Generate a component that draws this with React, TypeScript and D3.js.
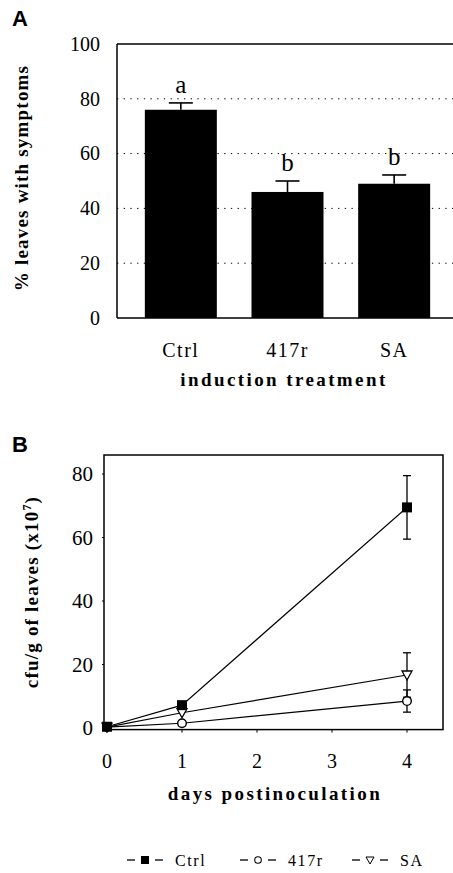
import React from "react";
import * as d3 from "d3";

// Panel A: % leaves with symptoms
const treatments = ["Ctrl", "417r", "SA"];
const symptomMeans = [76, 46, 49];
const symptomErrors = [2.5, 4, 3.2];
const significance = ["a", "b", "b"];
const symptomTicks = [0, 20, 40, 60, 80, 100];

// Panel B: cfu/g of leaves (x10^7)
const days = [0, 1, 4];
const dayTicks = [0, 1, 2, 3, 4];
const cfuTicks = [0, 20, 40, 60, 80];
const ctrlCfu = [0.4, 7.2, 69.5];
const ctrlErr = [0, 0, 10];
const r417Cfu = [0.3, 1.5, 8.5];
const r417Err = [0, 0, 3.5];
const saCfu = [0.3, 4.8, 16.7];
const saErr = [0, 0, 7];

const W = 453;
const H = 873;
const serif = "'Liberation Serif', 'Times New Roman', serif";
const sans = "'Liberation Sans', Arial, sans-serif";

type Series = { name: string; values: number[]; errors: number[]; marker: "square" | "circle" | "triangle" };
const series: Series[] = [
  { name: "Ctrl", values: ctrlCfu, errors: ctrlErr, marker: "square" },
  { name: "417r", values: r417Cfu, errors: r417Err, marker: "circle" },
  { name: "SA", values: saCfu, errors: saErr, marker: "triangle" },
];

const Marker = ({ type, x, y }: { type: string; x: number; y: number }) => {
  if (type === "square")
    return <rect x={x - 5} y={y - 5} width={10} height={10} fill="#000" />;
  if (type === "circle")
    return <circle cx={x} cy={y} r={4.3} fill="#fff" stroke="#000" strokeWidth={1.4} />;
  return (
    <path
      d={`M${x - 5},${y - 4}L${x + 5},${y - 4}L${x},${y + 5}Z`}
      fill="#fff"
      stroke="#000"
      strokeWidth={1.3}
    />
  );
};

export default function App() {
  // ---- panel A scales
  const yA = d3.scaleLinear().domain([0, 100]).range([318, 44]);
  const xA = d3
    .scaleBand<string>()
    .domain(treatments)
    .range([127.5, 447.5])
    .paddingInner(0.325)
    .paddingOuter(0.1625);
  const axisLeftA = 117;

  // ---- panel B scales
  const xB = d3.scaleLinear().domain([-0.04, 4.48]).range([104, 443]);
  const yB = d3.scaleLinear().domain([-0.5, 86]).range([729.6, 455]);
  const line = d3
    .line<number>()
    .x((_, i) => xB(days[i]))
    .y((d) => yB(d));

  // Ctrl markers sit on top of the others
  const markerOrder = [...series].reverse();

  return (
    <svg
      width={W}
      height={H}
      style={{ position: "absolute", left: 0, top: 0, background: "#fff" }}
    >
      {/* ================= Panel A ================= */}
      <text x={12} y={26} fontFamily={sans} fontWeight="bold" fontSize={22}>
        A
      </text>

      {/* dotted grid */}
      {symptomTicks
        .filter((t) => t > 0 && t < 100)
        .map((t) => (
          <line
            key={t}
            x1={axisLeftA}
            x2={W}
            y1={yA(t)}
            y2={yA(t)}
            stroke="#000"
            strokeWidth={1}
            strokeDasharray="1.3,5.4"
          />
        ))}

      {/* bars */}
      {treatments.map((c, i) => {
        const x = xA(c)!;
        const bw = xA.bandwidth();
        const cx = x + bw / 2;
        const top = yA(symptomMeans[i] + symptomErrors[i]);
        return (
          <g key={c}>
            <line x1={cx} x2={cx} y1={yA(symptomMeans[i])} y2={top} stroke="#000" strokeWidth={1.6} />
            <line x1={cx - 12} x2={cx + 12} y1={top} y2={top} stroke="#000" strokeWidth={1.6} />
            <rect x={x} y={yA(symptomMeans[i])} width={bw} height={yA(0) - yA(symptomMeans[i])} fill="#000" />
            <text
              x={cx}
              y={top - 10}
              textAnchor="middle"
              fontFamily={serif}
              fontSize={25}
            >
              {significance[i]}
            </text>
            <text
              x={cx}
              y={357}
              textAnchor="middle"
              fontFamily={serif}
              fontSize={20}
              letterSpacing={1.5}
            >
              {c}
            </text>
          </g>
        );
      })}

      {/* frame */}
      <line x1={axisLeftA} x2={W} y1={yA(100)} y2={yA(100)} stroke="#000" strokeWidth={1.5} />
      <line x1={axisLeftA} x2={W} y1={yA(0)} y2={yA(0)} stroke="#000" strokeWidth={1.5} />
      <line x1={axisLeftA} x2={axisLeftA} y1={yA(100)} y2={yA(0)} stroke="#000" strokeWidth={1.5} />

      {/* y ticks A */}
      {symptomTicks.map((t) => (
        <text
          key={t}
          x={100}
          y={yA(t)}
          dy="0.34em"
          textAnchor="end"
          fontFamily={serif}
          fontSize={20}
        >
          {t}
        </text>
      ))}

      <text
        transform={`translate(28,${178}) rotate(-90)`}
        textAnchor="middle"
        fontFamily={serif}
        fontWeight="bold"
        fontSize={19}
        letterSpacing={1.2}
      >
        % leaves with symptoms
      </text>
      <text
        x={284}
        y={386}
        textAnchor="middle"
        fontFamily={serif}
        fontWeight="bold"
        fontSize={19}
        letterSpacing={2.4}
      >
        induction treatment
      </text>

      {/* ================= Panel B ================= */}
      <text x={12} y={452} fontFamily={sans} fontWeight="bold" fontSize={22}>
        B
      </text>

      {/* frame */}
      <rect
        x={xB.range()[0]}
        y={yB.range()[1]}
        width={xB.range()[1] - xB.range()[0]}
        height={yB.range()[0] - yB.range()[1]}
        fill="none"
        stroke="#000"
        strokeWidth={1.5}
      />

      {/* x ticks */}
      {dayTicks.map((t) => (
        <g key={t}>
          {t > 0 && (
            <line x1={xB(t)} x2={xB(t)} y1={yB.range()[0]} y2={yB.range()[0] + 3} stroke="#000" strokeWidth={1} />
          )}
          <text x={xB(t)} y={768} textAnchor="middle" fontFamily={serif} fontSize={20}>
            {t}
          </text>
        </g>
      ))}

      {/* y ticks */}
      {cfuTicks.map((t) => (
        <g key={t}>
          <line x1={xB.range()[0] - 2} x2={xB.range()[0]} y1={yB(t)} y2={yB(t)} stroke="#000" strokeWidth={1} />
          <text x={93} y={yB(t)} dy="0.34em" textAnchor="end" fontFamily={serif} fontSize={21}>
            {t}
          </text>
        </g>
      ))}

      {/* lines */}
      {series.map((s) => (
        <path key={s.name} d={line(s.values) || ""} fill="none" stroke="#000" strokeWidth={1.2} />
      ))}

      {/* error bars */}
      {series.map((s) =>
        s.values.map((v, i) =>
          s.errors[i] > 0 ? (
            <g key={`${s.name}-e${i}`} stroke="#000" strokeWidth={1.3}>
              <line x1={xB(days[i])} x2={xB(days[i])} y1={yB(v - s.errors[i])} y2={yB(v + s.errors[i])} />
              <line x1={xB(days[i]) - 4} x2={xB(days[i]) + 4} y1={yB(v + s.errors[i])} y2={yB(v + s.errors[i])} />
              <line x1={xB(days[i]) - 4} x2={xB(days[i]) + 4} y1={yB(v - s.errors[i])} y2={yB(v - s.errors[i])} />
            </g>
          ) : null
        )
      )}

      {/* markers */}
      {markerOrder.map((s) =>
        s.values.map((v, i) => (
          <Marker key={`${s.name}-m${i}`} type={s.marker} x={xB(days[i])} y={yB(v)} />
        ))
      )}

      <text
        transform={`translate(38,${592}) rotate(-90)`}
        textAnchor="middle"
        fontFamily={serif}
        fontWeight="bold"
        fontSize={19}
        letterSpacing={1.2}
      >
        cfu/g of leaves (x10
        <tspan dy={-7} fontSize={12}>
          7
        </tspan>
        <tspan dy={7}>)</tspan>
      </text>
      <text
        x={275}
        y={800}
        textAnchor="middle"
        fontFamily={serif}
        fontWeight="bold"
        fontSize={19}
        letterSpacing={2.4}
      >
        days postinoculation
      </text>

      {/* legend */}
      {series.map((s, i) => {
        const lx = [127, 240, 352][i];
        const cy = 860;
        return (
          <g key={`leg-${s.name}`}>
            <line x1={lx} x2={lx + 8} y1={cy} y2={cy} stroke="#000" strokeWidth={1.3} />
            <line x1={lx + 28} x2={lx + 36} y1={cy} y2={cy} stroke="#000" strokeWidth={1.3} />
            {s.marker === "square" && <rect x={lx + 14} y={cy - 4} width={8} height={8} fill="#000" />}
            {s.marker === "circle" && (
              <circle cx={lx + 18} cy={cy} r={3.3} fill="#fff" stroke="#000" strokeWidth={1.1} />
            )}
            {s.marker === "triangle" && (
              <path
                d={`M${lx + 14},${cy - 3}L${lx + 22},${cy - 3}L${lx + 18},${cy + 4}Z`}
                fill="#fff"
                stroke="#000"
                strokeWidth={1}
              />
            )}
            <text x={lx + 48} y={cy + 6} fontFamily={serif} fontSize={16} letterSpacing={1.6}>
              {s.name}
            </text>
          </g>
        );
      })}
    </svg>
  );
}
